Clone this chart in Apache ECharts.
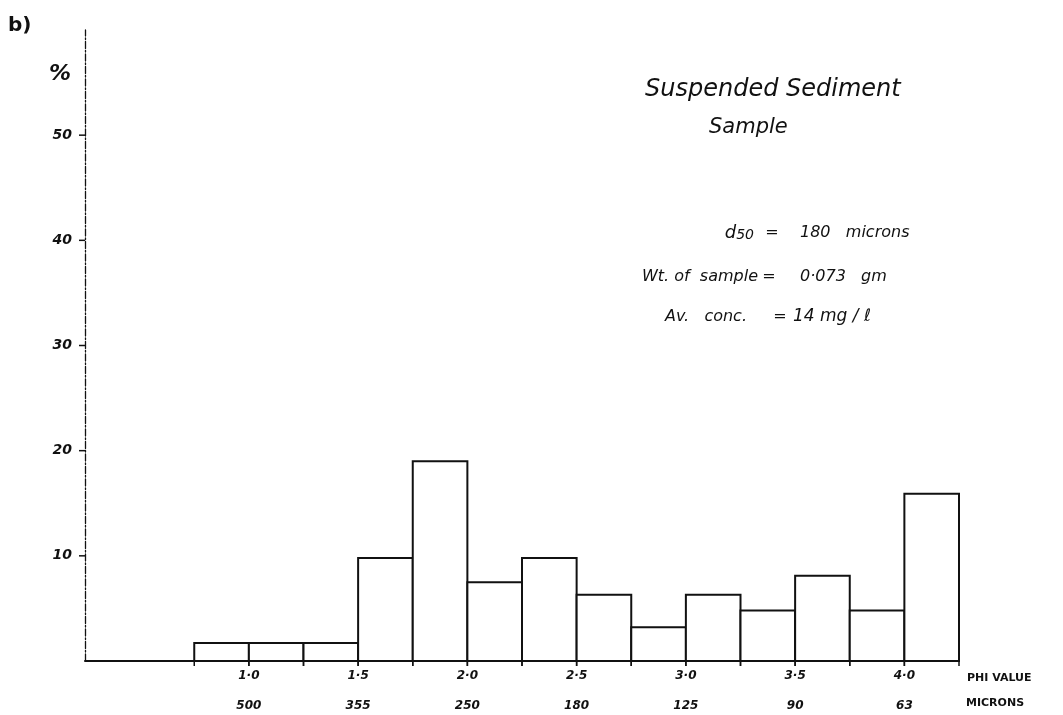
<!DOCTYPE html>
<html>
<head>
<meta charset="utf-8">
<script src="https://cdn.jsdelivr.net/npm/echarts@6/dist/echarts.min.js"></script>
<style>
  html, body { margin: 0; padding: 0; background: #fff; }
  #chart { width: 1063px; height: 715px; }
</style>
</head>
<body>
<div id="chart"></div>
<script>
// Quarter-phi size classes: lower and upper phi edge of each bin
const binStart = [0.75, 1.0, 1.25, 1.5, 1.75, 2.0, 2.25, 2.5, 2.75, 3.0, 3.25, 3.5, 3.75, 4.0];
const binEnd   = [1.0, 1.25, 1.5, 1.75, 2.0, 2.25, 2.5, 2.75, 3.0, 3.25, 3.5, 3.75, 4.0, 4.25];
// Percentage of the sample in each class
const percent  = [1.7, 1.7, 1.7, 9.8, 19.0, 7.5, 9.8, 6.3, 3.2, 6.3, 4.8, 8.1, 4.8, 15.9];

// Labelled positions on the size axis
const phiTicks     = [1.0, 1.5, 2.0, 2.5, 3.0, 3.5, 4.0];
const phiLabels    = ['1·0', '1·5', '2·0', '2·5', '3·0', '3·5', '4·0'];
const micronLabels = ['500', '355', '250', '180', '125', '90', '63'];
// Labelled percentages
const yTicks = [10, 20, 30, 40, 50];

const ink = '#111';
const hand = '"DejaVu Sans", sans-serif';

const bins = binStart.map((s, i) => [s, binEnd[i], percent[i]]);

const chart = echarts.init(document.getElementById('chart'), null, { renderer: 'canvas' });

chart.setOption({
  backgroundColor: '#fff',
  animation: false,
  grid: { left: 85, right: 104, top: 30, bottom: 54 },
  xAxis: {
    type: 'value',
    min: 0.25,
    max: 4.25,
    interval: 0.25,
    splitLine: { show: false },
    axisTick: { show: false },
    axisLine: { show: true, lineStyle: { color: ink, width: 2 } },
    axisLabel: {
      margin: 0,
      formatter: function (v) {
        const i = phiTicks.findIndex(t => Math.abs(t - v) < 1e-6);
        return i < 0 ? '' : '{p|' + phiLabels[i] + '}\n{m|' + micronLabels[i] + '}';
      },
      rich: {
        p: { fontFamily: hand, fontStyle: 'italic', fontWeight: 'bold', fontSize: 12, color: ink, lineHeight: 30 },
        m: { fontFamily: hand, fontStyle: 'italic', fontWeight: 'bold', fontSize: 12, color: ink, lineHeight: 30 }
      }
    }
  },
  yAxis: {
    type: 'value',
    min: 0,
    max: 60,
    interval: 10,
    splitLine: { show: false },
    axisTick: { show: false },
    axisLine: { show: true, lineStyle: { color: ink, width: 1.3, type: [7, 2, 1.5, 2] } },
    axisLabel: {
      margin: 13,
      fontFamily: hand,
      fontStyle: 'italic',
      fontWeight: 'bold',
      fontSize: 14,
      color: ink,
      formatter: v => (yTicks.indexOf(v) >= 0 ? String(v) : '')
    }
  },
  series: [
    {
      // histogram bars, with each class edge carried a little below the base line
      type: 'custom',
      data: bins,
      encode: { x: [0, 1], y: 2 },
      clip: false,
      renderItem: function (params, api) {
        const top = api.coord([api.value(0), api.value(2)]);
        const base = api.coord([api.value(1), 0]);
        return {
          type: 'group',
          children: [
            {
              type: 'rect',
              shape: { x: top[0], y: top[1], width: base[0] - top[0], height: base[1] - top[1] },
              style: { fill: '#fff', stroke: ink, lineWidth: 2 }
            },
            {
              type: 'line',
              shape: { x1: top[0], y1: base[1], x2: top[0], y2: base[1] + 5 },
              style: { stroke: ink, lineWidth: 1.5 }
            },
            {
              type: 'line',
              shape: { x1: base[0], y1: base[1], x2: base[0], y2: base[1] + 5 },
              style: { stroke: ink, lineWidth: 1.5 }
            }
          ]
        };
      }
    },
    {
      // short tick marks on the left of the percentage axis
      type: 'custom',
      data: yTicks.map(v => [0.25, v]),
      encode: { x: 0, y: 1 },
      clip: false,
      renderItem: function (params, api) {
        const p = api.coord([api.value(0), api.value(1)]);
        return {
          type: 'line',
          shape: { x1: p[0] - 6, y1: p[1], x2: p[0], y2: p[1] },
          style: { stroke: ink, lineWidth: 1.5 }
        };
      }
    }
  ],
  graphic: [
    { type: 'text', x: 8, y: 26, style: { text: 'b)', font: 'bold 20px ' + hand, fill: ink, verticalAlign: 'middle' } },
    { type: 'text', x: 60, y: 74, style: { text: '%', font: 'italic bold 22px ' + hand, fill: ink, align: 'center', verticalAlign: 'middle' } },
    { type: 'text', x: 645, y: 90, style: { text: 'Suspended Sediment', font: 'italic 24px ' + hand, fill: ink, verticalAlign: 'middle' } },
    { type: 'text', x: 709, y: 128, style: { text: 'Sample', font: 'italic 21px ' + hand, fill: ink, verticalAlign: 'middle' } },

    { type: 'text', x: 754, y: 233, style: { text: '{d|d}{s|50}', rich: { d: { font: 'italic 18px ' + hand, fill: ink }, s: { font: 'italic 14px ' + hand, fill: ink, padding: [5, 0, 0, 0] } }, fill: ink, align: 'right', verticalAlign: 'middle' } },
    { type: 'text', x: 772, y: 233, style: { text: '=', font: 'italic 16px ' + hand, fill: ink, align: 'center', verticalAlign: 'middle' } },
    { type: 'text', x: 800, y: 233, style: { text: '180   microns', font: 'italic 16px ' + hand, fill: ink, verticalAlign: 'middle' } },

    { type: 'text', x: 758, y: 277, style: { text: 'Wt. of  sample', font: 'italic 16px ' + hand, fill: ink, align: 'right', verticalAlign: 'middle' } },
    { type: 'text', x: 769, y: 277, style: { text: '=', font: 'italic 16px ' + hand, fill: ink, align: 'center', verticalAlign: 'middle' } },
    { type: 'text', x: 800, y: 277, style: { text: '0·073   gm', font: 'italic 16px ' + hand, fill: ink, verticalAlign: 'middle' } },

    { type: 'text', x: 747, y: 317, style: { text: 'Av.   conc.', font: 'italic 16px ' + hand, fill: ink, align: 'right', verticalAlign: 'middle' } },
    { type: 'text', x: 780, y: 317, style: { text: '=', font: 'italic 16px ' + hand, fill: ink, align: 'center', verticalAlign: 'middle' } },
    { type: 'text', x: 793, y: 317, style: { text: '14 mg / ℓ', font: 'italic 17px ' + hand, fill: ink, verticalAlign: 'middle' } },

    { type: 'text', x: 967, y: 678, style: { text: 'PHI VALUE', font: 'bold 11px ' + hand, fill: ink, verticalAlign: 'middle' } },
    { type: 'text', x: 966, y: 703, style: { text: 'MICRONS', font: 'bold 11px ' + hand, fill: ink, verticalAlign: 'middle' } }
  ]
});
</script>
</body>
</html>
